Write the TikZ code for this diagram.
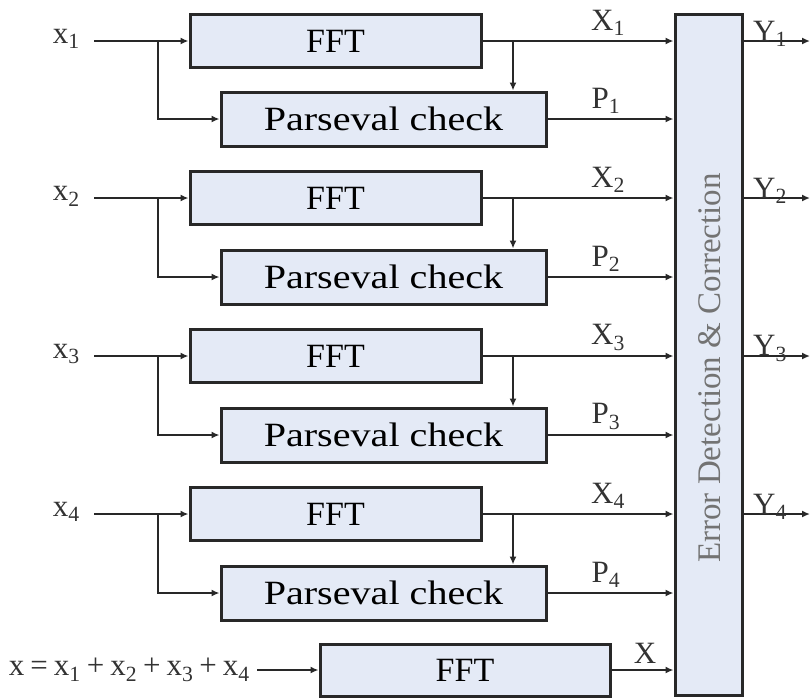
\documentclass[tikz,border=0pt]{standalone}
\usepackage{fontspec}
\setmainfont{Liberation Serif}
\usetikzlibrary{arrows.meta}
\definecolor{boxfill}{RGB}{228,234,246}
\definecolor{linec}{RGB}{40,40,40}
\tikzset{
  blk/.style={draw=linec, line width=3pt, fill=boxfill, inner sep=0pt,
    font=\fontsize{34}{40}\selectfont},
  fftbox/.style={blk, minimum width=291pt, minimum height=53pt},
  parbox/.style={blk, minimum width=325pt, minimum height=54pt},
  lbl/.style={inner sep=0pt, font=\fontsize{31}{35}\selectfont, text=black!80},
  conn/.style={line width=2.5pt, color=linec},
  arr/.style={conn, -{Latex[length=8pt,width=7pt]}},
}
\newcommand{\gp}{\hspace{6pt}}
\begin{document}
\begin{tikzpicture}[x=1pt,y=-1pt]
\useasboundingbox (0,0) rectangle (811,697);
% error detection box
\node[blk, minimum width=67pt, minimum height=681pt] (ed) at (708.5,354.5) {};
\node[rotate=90, inner sep=0pt, text=black!55, font=\fontsize{33}{37}\selectfont] (edt) at (710,368) {Error Detection \& Correction};
% rows
\foreach \i/\yf/\yp in {1/41/119, 2/198/277, 3/356/435, 4/514/593} {
  \node[fftbox] (f\i) at (335.5,\yf) {FFT};
  \node[parbox] (p\i) at (383.5,\yp) {\scalebox{1.18}[1]{Parseval check}};
  \node[lbl, anchor=east] (x\i) at (80,\yf-2) {x\textsubscript{\i}};
  \coordinate (s\i) at (158,\yf);
  \coordinate (t\i) at (513,\yf);
  \coordinate (ein\i) at (ed.west |- f\i);
  \coordinate (pin\i) at (ed.west |- p\i);
  \coordinate (eout\i) at (ed.east |- f\i);
  \coordinate (yo\i) at (810,\yf);
  \draw[conn] (x\i.east) ++(14,2) coordinate (xs\i) -- (s\i);
  \draw[arr] (s\i) -- (f\i.west);
  \draw[arr] (s\i) |- (p\i.west);
  \draw[conn] (f\i.east) -- (t\i);
  \draw[arr] (t\i) -- (ein\i);
  \draw[arr] (t\i) -- (t\i |- p\i.north);
  \draw[arr] (p\i.east) -- (pin\i);
  \draw[arr] (eout\i) -- (yo\i);
  \node[lbl, anchor=south] (xl\i) at (608,\yf-5) {X\textsubscript{\i}};
  \node[lbl, anchor=south] (pl\i) at (606,\yp-5) {P\textsubscript{\i}};
  \node[lbl, anchor=south] (yl\i) at (770,\yf+6) {Y\textsubscript{\i}};
}
% bottom row
\node[fftbox, minimum width=290pt, minimum height=52pt] (fb) at (465,670) {FFT};
\node[lbl, anchor=east] (xsum) at (250,670) {x\gp=\gp x\textsubscript{1}\gp+\gp x\textsubscript{2}\gp+\gp x\textsubscript{3}\gp+\gp x\textsubscript{4}};
\coordinate (xsum0) at (257,670);
\draw[arr] (xsum0) -- (fb.west);
\coordinate (ein5) at (ed.west |- fb);
\draw[arr] (fb.east) -- (ein5);
\node[lbl, anchor=south] (xl5) at (645,664) {X};
\end{tikzpicture}
\end{document}
